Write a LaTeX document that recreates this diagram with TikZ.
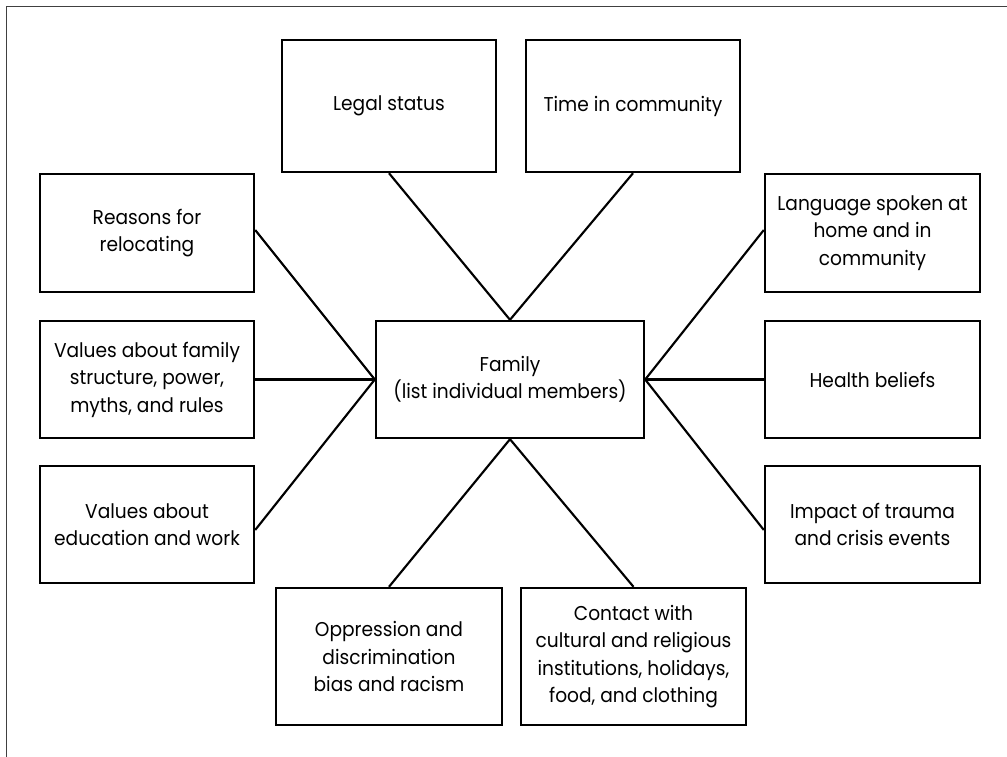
\documentclass[tikz,border=0pt]{standalone}
\usepackage{fontspec}
\setmainfont{Poppins}[FakeStretch=0.93]
\begin{document}
\begin{tikzpicture}[x=0.75pt,y=-0.75pt,
  box/.style={draw,line width=1.8pt,inner sep=0pt,align=center,
    font=\fontsize{15}{20.6}\selectfont},
  link/.style={line width=1.6pt},
  frameline/.style={line width=0.9pt,draw=black!75}]
\useasboundingbox (0,0) rectangle (1007,757);
% open frame: left and top edges only
\draw[frameline] (6.5,757) -- (6.5,6.5) -- (1007,6.5);
% centre node
\node[box,minimum width=268*0.75pt,minimum height=117*0.75pt] (family) at (510,379.5)
  {Family\\(list individual members)};
% top row
\node[box,minimum width=214*0.75pt,minimum height=132*0.75pt] (legal) at (389,106) {Legal status};
\node[box,minimum width=214*0.75pt,minimum height=132*0.75pt] (time) at (633,106) {Time in community};
% left column
\node[box,minimum width=214*0.75pt,minimum height=118*0.75pt] (reasons) at (147,233) {Reasons for\\relocating};
\node[box,minimum width=214*0.75pt,minimum height=117*0.75pt] (valfam) at (147,379.5) {Values about family\\structure, power,\\myths, and rules};
\node[box,minimum width=214*0.75pt,minimum height=117*0.75pt] (valedu) at (147,524.5) {Values about\\education and work};
% right column
\node[box,minimum width=215*0.75pt,minimum height=118*0.75pt] (lang) at (872.5,233) {Language spoken at\\home and in\\community};
\node[box,minimum width=215*0.75pt,minimum height=117*0.75pt] (health) at (872.5,379.5) {Health beliefs};
\node[box,minimum width=215*0.75pt,minimum height=117*0.75pt] (impact) at (872.5,524.5) {Impact of trauma\\and crisis events};
% bottom row
\node[box,minimum width=226*0.75pt,minimum height=137*0.75pt] (opp) at (389,656.5) {Oppression and\\discrimination\\bias and racism};
\node[box,minimum width=225*0.75pt,minimum height=137*0.75pt] (contact) at (633.5,656.5) {Contact with\\cultural and religious\\institutions, holidays,\\food, and clothing};
% connectors to the centre node
\draw[link] (legal.south) -- (family.north);
\draw[link] (time.south) -- (family.north);
\draw[link] ([yshift=2.25pt]reasons.east) -- (family.west);
\draw[link] (valfam.east) -- (family.west);
\draw[link] ([yshift=-4.1pt]valedu.east) -- (family.west);
\draw[link] ([yshift=2.25pt]lang.west) -- (family.east);
\draw[link] (health.west) -- (family.east);
\draw[link] ([yshift=-4.1pt]impact.west) -- (family.east);
\draw[link] (opp.north) -- (family.south);
\draw[link] (contact.north) -- (family.south);
\end{tikzpicture}
\end{document}
